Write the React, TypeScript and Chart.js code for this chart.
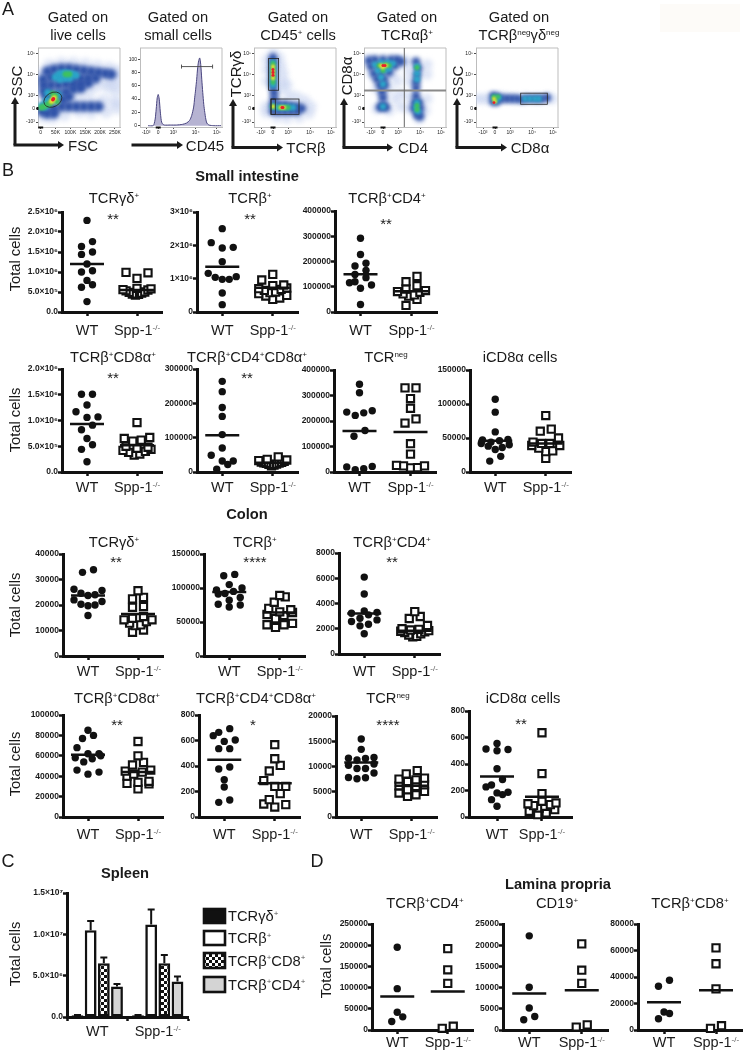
import React, { useEffect, useRef } from "react";
import { Chart, registerables } from "chart.js";

Chart.register(...registerables);
Chart.defaults.font.family = "'Liberation Sans', Arial, sans-serif";

const FONT = "'Liberation Sans', Arial, sans-serif";
const INK = "#1a1a1a";

// ---------- Small intestine ----------
const siGdWT = [2.29e6, 1.76e6, 1.64e6, 1.5e6, 1.44e6, 1.2e6, 1.03e6, 1.0e6, 0.79e6, 0.68e6, 0.62e6, 0.26e6];
const siGdKO = [0.99e6, 0.98e6, 0.84e6, 0.59e6, 0.58e6, 0.56e6, 0.55e6, 0.53e6, 0.5e6, 0.49e6, 0.47e6, 0.45e6, 0.44e6, 0.42e6];
const siBWT = [2.5e6, 2.08e6, 1.94e6, 1.92e6, 1.51e6, 1.16e6, 1.06e6, 1.04e6, 0.98e6, 0.98e6, 0.57e6, 0.22e6];
const siBKO = [1.13e6, 0.96e6, 0.81e6, 0.79e6, 0.72e6, 0.7e6, 0.68e6, 0.65e6, 0.6e6, 0.58e6, 0.55e6, 0.5e6, 0.48e6, 0.42e6, 0.38e6];
const siCd4WT = [292e3, 228e3, 193e3, 182e3, 165e3, 149e3, 136e3, 120e3, 116e3, 107e3, 94e3, 30e3];
const siCd4KO = [141e3, 120e3, 104e3, 91e3, 85e3, 81e3, 78e3, 72e3, 68e3, 63e3, 50e3, 26e3];
const siCd8WT = [1.51e6, 1.51e6, 1.3e6, 1.17e6, 1.07e6, 1.06e6, 0.91e6, 0.82e6, 0.65e6, 0.53e6, 0.44e6, 0.2e6];
const siCd8KO = [0.96e6, 0.67e6, 0.65e6, 0.62e6, 0.6e6, 0.5e6, 0.48e6, 0.46e6, 0.44e6, 0.42e6, 0.4e6, 0.38e6, 0.35e6, 0.33e6];
const siDpWT = [264e3, 234e3, 188e3, 162e3, 109e3, 70e3, 49e3, 32e3, 32e3, 22e3, 8e3];
const siDpKO = [44e3, 37e3, 35e3, 33e3, 31e3, 29e3, 28e3, 27e3, 26e3, 25e3, 23e3, 22e3, 20e3, 18e3];
const siNegWT = [344e3, 311e3, 240e3, 235e3, 232e3, 222e3, 163e3, 140e3, 20e3, 22e3, 13e3, 9e3];
const siNegKO = [330e3, 330e3, 288e3, 250e3, 208e3, 192e3, 111e3, 70e3, 26e3, 24e3, 24e3, 17e3, 16e3];
const siIelWT = [107e3, 88e3, 59e3, 48e3, 47e3, 46e3, 44e3, 42e3, 40e3, 38e3, 36e3, 33e3, 23e3, 16e3];
const siIelKO = [83e3, 63e3, 60e3, 50e3, 44e3, 42e3, 42e3, 39e3, 39e3, 35e3, 31e3, 30e3, 20e3];

// ---------- Colon ----------
const coGdWT = [33.8e3, 32.8e3, 26.2e3, 25.7e3, 24.6e3, 24e3, 23.7e3, 22e3, 21.4e3, 20.3e3, 20e3, 19.7e3, 15.9e3];
const coGdKO = [25.6e3, 23e3, 22.4e3, 19.4e3, 19.1e3, 15.5e3, 14.8e3, 14.2e3, 14.2e3, 13.5e3, 12.9e3, 12.2e3, 11.9e3, 10.2e3, 9.3e3];
const coBWT = [120e3, 118e3, 105e3, 100e3, 97e3, 95e3, 92e3, 91e3, 86e3, 82e3, 76e3, 75e3, 72e3];
const coBKO = [89e3, 87e3, 79e3, 70e3, 68e3, 65e3, 64e3, 61e3, 59.5e3, 55e3, 48e3, 46e3, 46e3, 42e3];
const coCd4WT = [6090, 4750, 3400, 3300, 3230, 3100, 2830, 2700, 2570, 2360, 2230, 1600];
const coCd4KO = [3360, 2970, 2810, 2260, 2000, 1950, 1900, 1850, 1800, 1750, 1700, 1600, 1500, 1400, 1350];
const coCd8WT = [85e3, 80e3, 77e3, 68e3, 62e3, 62e3, 60e3, 58e3, 57e3, 54e3, 46e3, 44e3, 42e3];
const coCd8KO = [74e3, 60e3, 53.5e3, 51e3, 46e3, 45e3, 44e3, 42e3, 40e3, 35e3, 34e3, 33e3, 32.5e3, 27.5e3];
const coDpWT = [693, 664, 638, 604, 593, 536, 536, 392, 376, 293, 235, 133, 115];
const coDpKO = [567, 457, 405, 361, 285, 240, 240, 183, 136, 102, 97, 78];
const coNegWT = [15460, 13400, 11780, 11640, 11600, 11300, 10500, 10260, 9600, 9600, 8700, 7830, 7760, 7570];
const coNegKO = [9200, 8550, 7700, 7500, 7370, 7040, 6380, 6180, 6050, 5400, 5060, 4740, 4400, 4080];
const coIelWT = [555, 513, 510, 500, 364, 283, 242, 227, 187, 182, 169, 131, 81];
const coIelKO = [636, 328, 177, 119, 106, 100, 93, 86, 81, 68, 55, 43, 30, 18];

// ---------- Lamina propria ----------
const lpCd4WT = [195e3, 97.5e3, 42e3, 31e3, 20e3];
const lpCd4KO = [192e3, 142e3, 110e3, 9e3, 4e3];
const lpCd19WT = [22.2e3, 10.1e3, 5.2e3, 3.2e3, 2.4e3];
const lpCd19KO = [20.3e3, 14.1e3, 11e3, 1.2e3, 0.7e3];
const lpCd8WT = [37.5e3, 33e3, 13.6e3, 12.4e3, 8.5e3];
const lpCd8KO = [62e3, 50e3, 31e3, 3.2e3, 1.2e3];

// ---------- Spleen ----------
const spleenGroups = ["WT", "Spp-1^{-/-}"];
const spleenGd = [2e5, 2e5];
const spleenB = [1.05e7, 1.12e7];
const spleenCd8 = [6.5e6, 6.5e6];
const spleenCd4 = [3.7e6, 4.3e6];
const spleenGdErr = [2.4e5, 2.4e5];
const spleenBErr = [1.16e7, 1.3e7];
const spleenCd8Err = [7.2e6, 7.5e6];
const spleenCd4Err = [4.0e6, 4.9e6];
const spleenNames = ["TCRγδ^{+}", "TCRβ^{+}", "TCRβ^{+}CD8^{+}", "TCRβ^{+}CD4^{+}"];

const xGroups = ["WT", "Spp-1^{-/-}"];
const TG = "TCRγδ^{+}", TB = "TCRβ^{+}", T4 = "TCRβ^{+}CD4^{+}", T8 = "TCRβ^{+}CD8α^{+}", TD = "TCRβ^{+}CD4^{+}CD8α^{+}", TN = "TCR^{neg}", TI = "iCD8α cells";

const lbl25 = ["0.0", "5.0×10⁵", "1.0×10⁶", "1.5×10⁶", "2.0×10⁶", "2.5×10⁶"];
const lbl3 = ["0", "1×10⁶", "2×10⁶", "3×10⁶"];
const lbl2 = ["0.0", "5.0×10⁵", "1.0×10⁶", "1.5×10⁶", "2.0×10⁶"];
const lbl400k = ["0", "100000", "200000", "300000", "400000"];
const lbl300k = ["0", "100000", "200000", "300000"];
const lbl150k = ["0", "50000", "100000", "150000"];
const lbl40k = ["0", "10000", "20000", "30000", "40000"];
const lbl8k = ["0", "2000", "4000", "6000", "8000"];
const lbl100k = ["0", "20000", "40000", "60000", "80000", "100000"];
const lbl800 = ["0", "200", "400", "600", "800"];
const lbl20k = ["0", "5000", "10000", "15000", "20000"];
const lbl250k = ["0", "50000", "100000", "150000", "200000", "250000"];
const lbl25k = ["0", "5000", "10000", "15000", "20000", "25000"];
const lbl80k = ["0", "20000", "40000", "60000", "80000"];

// ---------- Flow cytometry (panel A): density levels, axis units ----------
const biexLabels = ["-10³", "0", "10³", "10⁴", "10⁵"];
const biexTicksX = [-12, 0, 15, 37, 58];
const biexTicksY = [-14, 0, 13, 35, 56];
const fscTicks = [0, 50, 100, 150, 200, 250];
const fscLabels = ["0", "50K", "100K", "150K", "200K", "250K"];
const histTicks = [0, 20, 40, 60, 80, 100];

const fscDensity = [
  [[8, 36], [30, 44], [70, 46], [110, 46], [150, 45], [190, 43], [230, 41], [258, 38], [258, 30], [225, 28], [190, 24], [160, 18], [130, 10], [230, 22], [258, 20], [100, 6], [130, -3], [170, 6], [210, 8], [250, 8], [80, -6], [40, -9], [170, -4], [220, -3], [258, 1], [3, 16], [10, -8]],
  [[8, 30], [22, 38], [45, 40], [70, 41], [95, 41], [120, 40], [145, 39], [170, 38], [195, 37], [218, 36], [238, 35], [10, 24], [35, 32], [60, 32], [85, 31], [110, 31], [135, 31], [160, 31], [185, 31], [12, 18], [35, 24], [60, 24], [85, 25], [110, 25], [135, 25], [160, 26], [20, 13], [60, 15], [85, 17], [110, 20], [135, 21], [75, 9], [95, 12], [30, 16], [20, 3], [45, 0], [70, 2], [95, 2], [120, 2], [145, 2], [170, 2], [195, 2], [5, -3], [22, -5], [45, -5]],
  [[50, 32], [62, 35], [76, 36], [90, 36], [104, 35], [118, 34], [65, 30], [82, 31], [98, 31], [20, 8], [5, 3], [15, 2], [58, 14], [24, 16]],
  [[41, 9], [32, 5], [50, 13], [24, 4], [2, 1], [12, 2], [40, 15], [55, 7], [84, 35], [96, 35]],
  [[41, 9], [36, 7], [46, 11]],
  [[41, 9], [43, 10]],
];
const tcrDensity = [
  [[6, 52], [8, 44], [10, 36], [10, 28], [8, 20], [14, 24], [16, 14], [-6, 40], [-6, 28], [-6, 50], [0, 57], [24, 12], [32, 8], [38, 2], [36, -5], [26, -9], [14, -10], [4, -9], [-7, 2], [-7, -4]],
  [[0, 52], [0, 47], [0, 42], [0, 37], [0, 32], [0, 27], [0, 22], [1, 16], [1, 10], [0, 4], [0, -3], [6, 4], [6, -3], [12, 4], [12, -3], [18, 3], [18, -3], [24, 2], [24, -3], [29, 0]],
  [[0, 47], [0, 41], [0, 35], [0, 29], [0, 24], [0, 2], [5, 1], [10, 1], [15, 1], [20, 1]],
  [[0, 46], [0, 42], [0, 37], [0, 32], [0, 27], [0, 2], [7, 1], [12, 1], [15, 1]],
  [[0, 43], [0, 39], [0, 35], [0, 31], [8, 1], [11, 1], [0, 2]],
  [[0, 40], [0, 37], [0, 34], [9, 1], [10, 1]],
];
const cdDensity = [
  [[-15, 50], [-10, 35], [10, 35], [20, 48], [-6, 20], [6, 20], [0, 8], [-6, 0], [6, -2], [12, 10], [14, 28], [18, 15], [24, 48], [26, 38], [26, 28], [44, 45], [44, 35], [26, 12], [44, 10], [26, 0], [42, -2], [36, -10], [18, 2]],
  [[-14, 49], [-8, 50], [0, 50], [8, 50], [14, 50], [18, 48], [-12, 43], [-5, 44], [5, 44], [12, 44], [-9, 36], [-2, 36], [6, 37], [-6, 30], [1, 30], [-3, 24], [2, 24], [-1, 17], [0, 11], [0, 3], [-3, 1], [3, 1], [33, 48], [35, 41], [34, 34], [33, 27], [33, 21], [33, 13], [32, 6], [36, 6], [31, 0], [37, 0], [34, -6], [37, -8]],
  [[-8, 45], [-2, 47], [5, 47], [10, 46], [-5, 39], [2, 40], [6, 41], [-2, 32], [0, 25], [0, 2], [34, 43], [34, 36], [34, 30], [34, 6], [33, 1], [35, -3]],
  [[-4, 44], [2, 45], [6, 44], [0, 39], [34, 3], [34, -1], [34, 42]],
  [[-2, 44], [3, 44], [0, 42]],
  [[0, 44], [2, 44]],
];
const sscDensity = [
  [[-18, 10], [-12, 10], [-7, 10], [5, 12], [12, 11], [20, 10], [30, 11], [42, 10], [52, 11], [58, 10]],
  [[-2, 13], [-2, 7], [2, 12], [2, 7], [7, 10], [12, 10], [17, 10], [22, 10], [27, 9], [32, 10], [37, 10], [42, 10], [47, 10], [52, 11]],
  [[-1, 11], [1, 8], [4, 11], [30, 10], [35, 10], [40, 10], [44, 10]],
  [[-1, 12], [0, 9], [3, 12]],
  [[-1, 10], [0, 7]],
  [[-1, 6]],
];
const histX = [-10, -5, -4, -3, -2, -1, 0, 1, 2, 3, 4, 6, 12, 18, 24, 28, 31, 33, 35, 36, 37, 38, 39, 40, 41, 42, 43, 44, 45, 46, 47, 48, 50, 55, 62];
const histY = [0, 0, 3, 10, 25, 42, 47, 40, 22, 8, 3, 1, 1, 1, 2, 4, 8, 15, 28, 42, 55, 70, 88, 98, 102, 92, 70, 50, 32, 20, 10, 4, 1, 0, 0];

const levelColors = ["rgba(190,204,238,0.5)", "#2f52a8", "#2aa6c9", "#3fc15e", "#f2e22e", "#e8202a"];
const levelRadii = [7, 5.5, 4, 3.2, 2.6, 1.9];
const levelBlur = [2.4, 2.2, 1.8, 1.3, 0.9, 0.6];

function parseRich(text: string) {
  const out: { t: string; sup: boolean }[] = [];
  const re = /\^\{([^}]*)\}/g;
  let last = 0, m: RegExpExecArray | null;
  while ((m = re.exec(text))) {
    if (m.index > last) out.push({ t: text.slice(last, m.index), sup: false });
    out.push({ t: m[1], sup: true });
    last = m.index + m[0].length;
  }
  if (last < text.length) out.push({ t: text.slice(last), sup: false });
  return out;
}

function drawRich(ctx: CanvasRenderingContext2D, text: string, cx: number, cy: number, size: number, align = "center") {
  const segs = parseRich(text);
  const supSize = Math.round(size * 0.55);
  let w = 0;
  segs.forEach((s) => {
    ctx.font = `${s.sup ? supSize : size}px ${FONT}`;
    w += ctx.measureText(s.t).width;
  });
  let x = align === "center" ? cx - w / 2 : cx;
  ctx.save();
  ctx.textBaseline = "alphabetic";
  ctx.textAlign = "left";
  segs.forEach((s) => {
    ctx.font = `${s.sup ? supSize : size}px ${FONT}`;
    ctx.fillStyle = s.sup ? "#555" : INK;
    ctx.fillText(s.t, x, cy + size * 0.36 - (s.sup ? size * 0.38 : 0));
    x += ctx.measureText(s.t).width;
  });
  ctx.restore();
}

function Rich({ text, supSize = 8 }: { text: string; supSize?: number }) {
  return (
    <>
      {parseRich(text).map((s, i) =>
        s.sup ? (
          <span key={i} style={{ fontSize: supSize, verticalAlign: 5, lineHeight: 0 }}>{s.t}</span>
        ) : (
          <span key={i}>{s.t}</span>
        )
      )}
    </>
  );
}

function Label({ x, y, text, size = 14.7, bold = false, rotate = false }: any) {
  return (
    <div
      style={{
        position: "absolute", left: x, top: y, fontFamily: FONT, fontSize: size, fontWeight: bold ? 700 : 400,
        color: INK, lineHeight: 1, whiteSpace: "nowrap",
        transform: `translate(-50%,-50%)${rotate ? " rotate(-90deg)" : ""}`,
      }}
    >
      <Rich text={text} />
    </div>
  );
}

function ChartBox({ left, top, width, height, make }: any) {
  const ref = useRef<HTMLCanvasElement>(null);
  useEffect(() => {
    const chart = new Chart(ref.current as HTMLCanvasElement, make(ref.current));
    return () => chart.destroy();
  }, []);
  return <canvas ref={ref} width={width} height={height} style={{ position: "absolute", left, top, width, height }} />;
}

// Prism-style column scatter: values in one horizontal bin spread out from the centre, lowest first.
function swarm(values: number[], center: number, yMax: number, plotH: number, plotW: number) {
  const BIN = 6.5;
  const sorted = [...values].sort((a, b) => a - b);
  const pts: { x: number; y: number }[] = [];
  let i = 0;
  while (i < sorted.length) {
    const start = (sorted[i] / yMax) * plotH;
    let j = i;
    while (j < sorted.length && (sorted[j] / yMax) * plotH - start <= BIN) j++;
    const n = j - i;
    const s = n <= 3 ? 11 : Math.min(8.5, 28 / (n - 1));
    for (let k = 0; k < n; k++) {
      const side = k % 2 === 0 ? 1 : -1;
      const off = n % 2 === 1 ? -side * Math.ceil(k / 2) * s : -side * (Math.floor(k / 2) + 0.5) * s;
      pts.push({ x: center + (off * 2) / plotW, y: sorted[i + k] });
    }
    i = j;
  }
  return pts;
}

const PAD_L = 62, PAD_T = 8, PAD_R = 10, PAD_B = 30;

function tickScale(extra: any) {
  return {
    border: { display: true, width: 3, color: "#111" },
    grid: { drawOnChartArea: false, drawTicks: true, tickLength: 4, tickWidth: 2.5, tickColor: "#111" },
    ...extra,
  };
}

function yScale(yMax: number, labels: string[]) {
  return tickScale({
    type: "linear", min: 0, max: yMax,
    afterBuildTicks: (s: any) => { s.ticks = labels.map((_, i) => ({ value: (yMax * i) / (labels.length - 1) })); },
    afterFit: (s: any) => { s.width = PAD_L; },
    ticks: {
      autoSkip: false, padding: 0, color: INK, font: { size: 8.5, weight: "bold" },
      callback: (_v: any, i: number) => labels[i],
    },
  });
}

function xLabelsPlugin(labels: string[], yOffset: number, at: (c: any, i: number) => number) {
  return {
    id: "xRich",
    afterDraw(c: any) {
      labels.forEach((l, i) => drawRich(c.ctx, l, at(c, i), c.chartArea.bottom + yOffset, 14.5));
    },
  };
}

function scatterPanel(p: any) {
  const plotW = p.end - p.axis;
  const plotH = p.bottom - p.top;
  const centers = p.centers || [0, 1];
  const half = (17 * 2) / plotW;
  const meanLine = (c: number, m: number) => ({
    data: [{ x: c - half, y: m }, { x: c + half, y: m }],
    showLine: true, pointRadius: 0, borderColor: "#111", borderWidth: 2.5, clip: false,
  });
  return () => ({
    type: "scatter",
    data: {
      datasets: [
        meanLine(centers[0], p.means[0]),
        meanLine(centers[1], p.means[1]),
        {
          data: swarm(p.wt, centers[0], p.yMax, plotH, plotW),
          pointStyle: "circle", pointRadius: 3.7, backgroundColor: "#111", borderColor: "#111", borderWidth: 0, clip: false,
        },
        {
          data: swarm(p.ko, centers[1], p.yMax, plotH, plotW),
          pointStyle: "rect", pointRadius: 5.1, backgroundColor: "#fff", borderColor: "#111", borderWidth: 2.1, clip: false,
        },
      ],
    },
    options: {
      animation: false, responsive: false,
      layout: { autoPadding: false, padding: { left: 0, top: PAD_T, right: PAD_R, bottom: 0 } },
      plugins: { legend: { display: false }, tooltip: { enabled: false }, title: { display: false } },
      scales: {
        x: tickScale({
          type: "linear", min: -0.5, max: 1.5,
          afterBuildTicks: (s: any) => { s.ticks = centers.map((v: number) => ({ value: v })); },
          afterFit: (s: any) => { s.height = PAD_B; },
          ticks: { display: false },
        }),
        y: yScale(p.yMax, p.labels),
      },
    },
    plugins: [xLabelsPlugin(xGroups, p.labelY - p.bottom, (c, i) => c.scales.x.getPixelForValue(centers[i]))],
  });
}

const scatterPanels: any[] = [
  // Small intestine, row 1
  { axis: 62, top: 212, bottom: 312, end: 162, yMax: 2.5e6, labels: lbl25, wt: siGdWT, ko: siGdKO, means: [1.2e6, 0.55e6], title: TG, tx: 114, ty: 198, star: "**", sx: 113, sy: 215, labelY: 330, yTitleX: 15, yTitleY: 259 },
  { axis: 197, top: 212, bottom: 312, end: 298, yMax: 3e6, labels: lbl3, wt: siBWT, ko: siBKO, means: [1.36e6, 0.73e6], title: TB, tx: 250, ty: 198, star: "**", sx: 250, sy: 215, labelY: 330 },
  { axis: 335, top: 211, bottom: 312, end: 437, yMax: 400000, labels: lbl400k, wt: siCd4WT, ko: siCd4KO, means: [150e3, 82e3], title: T4, tx: 387, ty: 198, star: "**", sx: 386, sy: 220, labelY: 330 },
  // Small intestine, row 2
  { axis: 62, top: 369, bottom: 472, end: 162, yMax: 2e6, labels: lbl2, wt: siCd8WT, ko: siCd8KO, means: [0.93e6, 0.52e6], title: T8, tx: 113, ty: 357, star: "**", sx: 113, sy: 374, labelY: 487, yTitleX: 15, yTitleY: 420 },
  { axis: 197, top: 369, bottom: 472, end: 298, yMax: 300000, labels: lbl300k, wt: siDpWT, ko: siDpKO, means: [107e3, 27e3], title: TD, tx: 247, ty: 357, star: "**", sx: 247, sy: 374, labelY: 487 },
  { axis: 334, top: 370, bottom: 472, end: 436, yMax: 400000, labels: lbl400k, wt: siNegWT, ko: siNegKO, means: [161e3, 157e3], title: TN, tx: 386, ty: 357, labelY: 487 },
  { axis: 470, top: 370, bottom: 472, end: 571, yMax: 150000, labels: lbl150k, wt: siIelWT, ko: siIelKO, means: [46e3, 42e3], title: TI, tx: 520, ty: 357, labelY: 487 },
  // Colon, row 1
  { axis: 63, top: 554, bottom: 656, end: 163, yMax: 40000, labels: lbl40k, wt: coGdWT, ko: coGdKO, means: [23.7e3, 16.5e3], title: TG, tx: 114, ty: 542, star: "**", sx: 116, sy: 558, labelY: 671, yTitleX: 15, yTitleY: 605 },
  { axis: 204, top: 554, bottom: 656, end: 305, yMax: 150000, labels: lbl150k, wt: coBWT, ko: coBKO, means: [94e3, 64e3], title: TB, tx: 255, ty: 542, star: "****", sx: 255, sy: 558, labelY: 671 },
  { axis: 339, top: 553, bottom: 654, end: 440, yMax: 8000, labels: lbl8k, wt: coCd4WT, ko: coCd4KO, means: [3200, 1850], title: T4, tx: 392, ty: 542, star: "**", sx: 392, sy: 558, labelY: 671 },
  // Colon, row 2
  { axis: 63, top: 715, bottom: 817, end: 163, yMax: 100000, labels: lbl100k, wt: coCd8WT, ko: coCd8KO, means: [61e3, 44e3], title: T8, tx: 117, ty: 698, star: "**", sx: 117, sy: 721, labelY: 834, yTitleX: 15, yTitleY: 764 },
  { axis: 199, top: 715, bottom: 817, end: 300, yMax: 800, labels: lbl800, wt: coDpWT, ko: coDpKO, means: [450, 264], title: TD, tx: 256, ty: 698, star: "*", sx: 253, sy: 721, labelY: 834 },
  { axis: 336, top: 716, bottom: 817, end: 437, yMax: 20000, labels: lbl20k, wt: coNegWT, ko: coNegKO, means: [10800, 6200], title: TN, tx: 388, ty: 698, star: "****", sx: 388, sy: 721, labelY: 834 },
  { axis: 469, top: 711, bottom: 817, end: 572, yMax: 800, labels: lbl800, wt: coIelWT, ko: coIelKO, means: [306, 152], title: TI, tx: 523, ty: 698, star: "**", sx: 521, sy: 720, labelY: 834, centers: [0.044, 0.917] },
  // Lamina propria
  { axis: 372, top: 924, bottom: 1030, end: 473, yMax: 250000, labels: lbl250k, wt: lpCd4WT, ko: lpCd4KO, means: [79e3, 91e3], title: T4, tx: 425, ty: 903, labelY: 1042, yTitleX: 326, yTitleY: 966 },
  { axis: 503, top: 924, bottom: 1030, end: 608, yMax: 25000, labels: lbl25k, wt: lpCd19WT, ko: lpCd19KO, means: [8.6e3, 9.4e3], title: "CD19^{+}", tx: 557, ty: 903, labelY: 1042 },
  { axis: 638, top: 924, bottom: 1030, end: 742, yMax: 80000, labels: lbl80k, wt: lpCd8WT, ko: lpCd8KO, means: [21e3, 30e3], title: "TCRβ^{+}CD8^{+}", tx: 690, ty: 903, labelY: 1042 },
];

function checkerPattern(canvas: HTMLCanvasElement) {
  const cell = document.createElement("canvas");
  cell.width = 6; cell.height = 6;
  const c = cell.getContext("2d") as CanvasRenderingContext2D;
  c.fillStyle = "#111"; c.fillRect(0, 0, 6, 6);
  c.fillStyle = "#fff";
  c.fillRect(0, 0, 3, 3);
  c.fillRect(3, 3, 3, 3);
  return (canvas.getContext("2d") as CanvasRenderingContext2D).createPattern(cell, "repeat");
}

function spleenConfig(canvas: HTMLCanvasElement) {
  const pattern = checkerPattern(canvas);
  const base = { borderColor: "#111", borderWidth: 2.6, categoryPercentage: 0.87, barPercentage: 0.9, borderSkipped: false };
  const sets = [
    { data: spleenGd, errors: spleenGdErr, backgroundColor: "#111", ...base },
    { data: spleenB, errors: spleenBErr, backgroundColor: "#fff", ...base },
    { data: spleenCd8, errors: spleenCd8Err, backgroundColor: pattern, ...base },
    { data: spleenCd4, errors: spleenCd4Err, backgroundColor: "#d4d4d4", ...base },
  ];
  const legendRows = [[909, 14], [931, 14], [953, 15], [977, 15]];
  return {
    type: "bar",
    data: { labels: spleenGroups, datasets: sets },
    options: {
      animation: false, responsive: false,
      layout: { autoPadding: false, padding: { left: 0, top: PAD_T, right: 137, bottom: 0 } },
      plugins: { legend: { display: false }, tooltip: { enabled: false } },
      scales: {
        x: tickScale({ type: "category", afterFit: (s: any) => { s.height = PAD_B; }, ticks: { display: false } }),
        y: yScale(1.5e7, ["0.0", "5.0×10⁶", "1.0×10⁷", "1.5×10⁷"]),
      },
    },
    plugins: [
      xLabelsPlugin(spleenGroups, 14, (c, i) => c.scales.x.getPixelForValue(i)),
      {
        id: "errorsAndLegend",
        afterDatasetsDraw(c: any) {
          const ctx = c.ctx;
          c.data.datasets.forEach((d: any, di: number) => {
            c.getDatasetMeta(di).data.forEach((bar: any, i: number) => {
              const yTop = c.scales.y.getPixelForValue(d.errors[i]);
              ctx.save();
              ctx.strokeStyle = "#111"; ctx.lineWidth = 2;
              ctx.beginPath();
              ctx.moveTo(bar.x, bar.y); ctx.lineTo(bar.x, yTop);
              ctx.moveTo(bar.x - 3.5, yTop); ctx.lineTo(bar.x + 3.5, yTop);
              ctx.stroke();
              ctx.restore();
            });
          });
        },
        afterDraw(c: any) {
          const ctx = c.ctx;
          const ox = 5, oy = 885;
          legendRows.forEach(([y, h], i) => {
            ctx.save();
            ctx.fillStyle = sets[i].backgroundColor;
            ctx.strokeStyle = "#111"; ctx.lineWidth = 2.6;
            ctx.fillRect(204 - ox, y - oy, 21, h);
            ctx.strokeRect(204 - ox, y - oy, 21, h);
            ctx.restore();
            drawRich(ctx, spleenNames[i], 228 - ox, y + h / 2 - oy, 14.7, "left");
          });
        },
      },
    ],
  };
}

function flowConfig(f: any) {
  const datasets: any[] = [];
  if (f.density) {
    f.density.forEach((pts: number[][], lv: number) => {
      datasets.push({
        data: pts.map((p) => ({ x: p[0], y: p[1] })),
        pointStyle: "circle", pointRadius: levelRadii[lv] * (f.rs || 1),
        backgroundColor: levelColors[lv], borderWidth: 0, order: 10 - lv,
      });
    });
  }
  if (f.hist) {
    datasets.push({
      data: f.hist.x.map((x: number, i: number) => ({ x, y: f.hist.y[i] })),
      showLine: true, pointRadius: 0, fill: "origin", tension: 0.25,
      backgroundColor: "#b6b3d2", borderColor: "#4a4680", borderWidth: 1,
    });
  }
  const flowAxis = (extra: any) => ({
    border: { display: true, width: 1, color: "#bdbdbd" },
    grid: { drawOnChartArea: false, drawTicks: true, tickLength: 2, tickWidth: 0.8, tickColor: "#222" },
    ...extra,
  });
  const ticksFor = (vals: number[], labels: string[]) => ({
    afterBuildTicks: (s: any) => { s.ticks = vals.map((v) => ({ value: v })); },
    ticks: {
      autoSkip: false, maxRotation: 0, padding: 1, color: "#222", font: { size: 5 },
      callback: (_v: any, i: number) => labels[i],
    },
  });
  return () => ({
    type: "scatter",
    data: { datasets },
    options: {
      animation: false, responsive: false,
      layout: { autoPadding: false, padding: { left: 0, top: 2, right: 8, bottom: 0 } },
      plugins: { legend: { display: false }, tooltip: { enabled: false } },
      scales: {
        x: flowAxis({ type: "linear", min: f.x[0], max: f.x[1], afterFit: (s: any) => { s.height = 14; }, ...ticksFor(f.xt, f.xl) }),
        y: flowAxis({ type: "linear", min: f.y[0], max: f.y[1], afterFit: (s: any) => { s.width = 22; }, ...ticksFor(f.yt, f.yl) }),
      },
    },
    plugins: [
      {
        id: "blur",
        beforeDatasetDraw(c: any, args: any) { if (f.density) c.ctx.filter = `blur(${levelBlur[args.index]}px)`; },
        afterDatasetDraw(c: any) { c.ctx.filter = "none"; },
      },
      {
        id: "gates",
        afterDraw(c: any) {
          const ctx = c.ctx, { x, y } = c.scales, a = c.chartArea;
          ctx.save();
          ctx.strokeStyle = "#bdbdbd"; ctx.lineWidth = 1;
          ctx.beginPath();
          ctx.moveTo(a.left, a.top); ctx.lineTo(a.right, a.top); ctx.lineTo(a.right, a.bottom);
          ctx.stroke();
          ctx.fillStyle = "#111";
          ctx.fillRect(x.getPixelForValue(0) - 2.5, a.bottom - 0.5, 5, 2);
          if (f.density) ctx.fillRect(a.left - 1.5, y.getPixelForValue(0) - 1.5, 2, 3);
          ctx.strokeStyle = "#222"; ctx.lineWidth = 0.8;
          (f.rects || []).forEach((r: number[]) => {
            const x0 = x.getPixelForValue(r[0]), x1 = x.getPixelForValue(r[2]);
            const y0 = y.getPixelForValue(r[1]), y1 = y.getPixelForValue(r[3]);
            ctx.strokeRect(x0, y0, x1 - x0, y1 - y0);
          });
          if (f.ellipse) {
            ctx.beginPath();
            ctx.ellipse(x.getPixelForValue(f.ellipse[0]), y.getPixelForValue(f.ellipse[1]), 9.5, 7, -0.5, 0, Math.PI * 2);
            ctx.stroke();
          }
          if (f.hgate) {
            const g = f.hgate, y0 = y.getPixelForValue(g[2]);
            ctx.strokeStyle = "#444"; ctx.lineWidth = 0.9;
            ctx.beginPath();
            ctx.moveTo(x.getPixelForValue(g[0]), y0); ctx.lineTo(x.getPixelForValue(g[1]), y0);
            ctx.moveTo(x.getPixelForValue(g[0]), y0 - 2); ctx.lineTo(x.getPixelForValue(g[0]), y0 + 2);
            ctx.moveTo(x.getPixelForValue(g[1]), y0 - 2); ctx.lineTo(x.getPixelForValue(g[1]), y0 + 2);
            ctx.stroke();
          }
          if (f.quad) {
            ctx.strokeStyle = "#8a8a8a"; ctx.lineWidth = 2;
            ctx.beginPath();
            ctx.moveTo(a.left, y.getPixelForValue(f.quad[1])); ctx.lineTo(a.right, y.getPixelForValue(f.quad[1]));
            ctx.stroke();
            ctx.strokeStyle = "#666"; ctx.lineWidth = 1;
            ctx.beginPath();
            ctx.moveTo(x.getPixelForValue(f.quad[0]), a.top); ctx.lineTo(x.getPixelForValue(f.quad[0]), a.bottom);
            ctx.stroke();
          }
          ctx.restore();
        },
      },
    ],
  });
}

const flowPlots: any[] = [
  { left: 38, density: fscDensity, rs: 0.95, x: [-9, 267], xt: fscTicks, xl: fscLabels, y: [-19, 62], yt: biexTicksY, yl: biexLabels, ellipse: [41, 9] },
  { left: 140, hist: { x: histX, y: histY }, x: [-18, 63], xt: biexTicksX, xl: biexLabels, y: [-2, 117], yt: histTicks, yl: histTicks.map(String), hgate: [23, 53.7, 89] },
  { left: 254, density: tcrDensity, rs: 0.8, x: [-19, 63], xt: biexTicksX, xl: biexLabels, y: [-19, 62], yt: biexTicksY, yl: biexLabels, rects: [[-4.4, 51.3, 5.6, 18.7], [-2, 9.7, 26, -6], [-2, 9.7, 2.3, -6]] },
  { left: 364, density: cdDensity, rs: 0.8, x: [-19, 63], xt: biexTicksX, xl: biexLabels, y: [-19, 62], yt: biexTicksY, yl: biexLabels, quad: [21.3, 18.3] },
  { left: 476, density: sscDensity, rs: 0.75, x: [-19, 63], xt: biexTicksX, xl: biexLabels, y: [-19, 62], yt: biexTicksY, yl: biexLabels, rects: [[25.7, 15.7, 52.3, 4.3]] },
];

const flowTitles = [
  ["Gated on", "live cells", 78], ["Gated on", "small cells", 178], ["Gated on", "CD45^{+} cells", 298],
  ["Gated on", "TCRαβ^{+}", 407], ["Gated on", "TCRβ^{neg}γδ^{neg}", 519],
];
const flowXLabels = [["FSC", 83, 145], ["CD45", 205, 145], ["TCRβ", 306, 147], ["CD4", 413, 147], ["CD8α", 530, 147]];
const flowYLabels = [["SSC", 16, 81], ["TCRγδ", 235, 74], ["CD8α", 346, 76], ["SSC", 457, 81]];

// corner x, corner y, top of the upward arm (none for the histogram), tip of the right arm
const arrows = [[15, 145, 97, 64], [133, 145, 0, 183], [233, 147.5, 99, 283], [344, 147.5, 98, 393], [457, 147.5, 98, 507]];

export default function App() {
  useEffect(() => {
    document.body.style.margin = "0";
  }, []);
  return (
    <div style={{ position: "absolute", left: 0, top: 0, width: 743, height: 1050, overflow: "hidden", background: "#fff" }}>
      <div style={{ position: "absolute", left: 660, top: 4, width: 80, height: 28, background: "#fdfbf8" }} />
      {flowPlots.map((f, i) => (
        <ChartBox key={"f" + i} left={f.left - 22} top={44} width={82 + 22 + 8} height={81 + 2 + 14} make={flowConfig(f)} />
      ))}
      {scatterPanels.map((p, i) => (
        <ChartBox
          key={"p" + i}
          left={p.axis - PAD_L}
          top={p.top - PAD_T}
          width={p.end - p.axis + PAD_L + PAD_R}
          height={p.bottom - p.top + PAD_T + PAD_B}
          make={scatterPanel(p)}
        />
      ))}
      <ChartBox left={5} top={885} width={320} height={162} make={spleenConfig} />

      <svg width={743} height={1050} style={{ position: "absolute", left: 0, top: 0, pointerEvents: "none" }}>
        {arrows.map(([cx, cy, up, tip], i) => (
          <g key={i} fill="#1a1a1a" stroke="none">
            {up ? <rect x={cx - 1.5} y={up + 5} width={3} height={cy - up - 5} /> : null}
            {up ? <polygon points={`${cx - 4},${up + 7} ${cx + 4},${up + 7} ${cx},${up}`} /> : null}
            <rect x={cx - 1.5} y={cy - 1.5} width={tip - cx - 3} height={3} />
            <polygon points={`${tip - 6},${cy - 4} ${tip - 6},${cy + 4} ${tip},${cy}`} />
          </g>
        ))}
      </svg>

      <Label x={8} y={9} text="A" size={18} />
      <Label x={8} y={170} text="B" size={18} />
      <Label x={8} y={861} text="C" size={18} />
      <Label x={317} y={861} text="D" size={18} />
      <Label x={247} y={176} text="Small intestine" bold />
      <Label x={247} y={514} text="Colon" bold />
      <Label x={125} y={873} text="Spleen" bold />
      <Label x={558} y={884} text="Lamina propria" bold />

      {flowTitles.map(([a, b, x], i) => (
        <React.Fragment key={"t" + i}>
          <Label x={x} y={17} text={a} />
          <Label x={x} y={35} text={b} />
        </React.Fragment>
      ))}
      {flowXLabels.map(([t, x, y], i) => <Label key={"xl" + i} x={x} y={y} text={t} size={15} />)}
      {flowYLabels.map(([t, x, y], i) => <Label key={"yl" + i} x={x} y={y} text={t} size={15} rotate />)}

      {scatterPanels.map((p, i) => (
        <React.Fragment key={"l" + i}>
          <Label x={p.tx} y={p.ty} text={p.title} />
          {p.star ? <Label x={p.sx} y={p.sy + 3} text={p.star} size={15} /> : null}
          {p.yTitleX ? <Label x={p.yTitleX} y={p.yTitleY} text="Total cells" rotate /> : null}
        </React.Fragment>
      ))}
      <Label x={15} y={954} text="Total cells" rotate />
    </div>
  );
}
